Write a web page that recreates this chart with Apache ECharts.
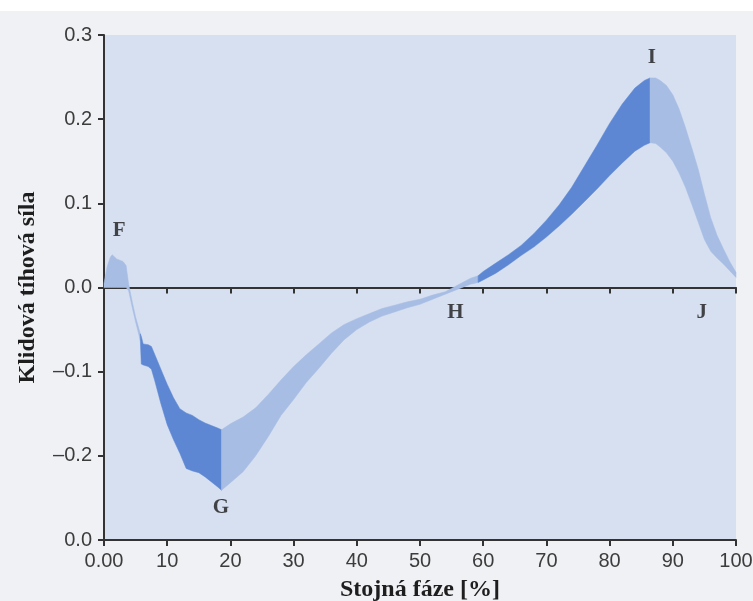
<!DOCTYPE html>
<html>
<head>
<meta charset="utf-8">
<script src="https://cdn.jsdelivr.net/npm/echarts@6/dist/echarts.min.js"></script>
<style>
  html, body { margin: 0; padding: 0; }
  body { background: linear-gradient(#ffffff 0 11px, #f0f1f4 11px); }
  #chart { width: 753px; height: 601px; }
</style>
</head>
<body>
<div id="chart"></div>
<script>
// Stance phase (% of stance) and the band of ground reaction force
const phase = [0, 0.5, 1, 1.3, 2, 3, 3.5, 3.9, 4.5, 5, 5.75, 5.9, 6.2, 7, 7.5, 8, 9, 10, 11, 12, 13, 14, 15, 16, 17, 18, 18.6,
  20, 22, 24, 26, 28, 30, 32, 34, 36, 38, 40, 42, 44, 46, 48, 50, 52, 54, 56, 58, 59.2,
  60, 62, 64, 66, 68, 70, 72, 74, 76, 78, 80, 82, 84, 85.5, 86.4, 87.3, 88, 89, 90, 91, 92, 93, 94, 95, 96, 97, 98, 99, 100];
const upperForce = [0.005, 0.025, 0.036, 0.039, 0.034, 0.031, 0.026, 0.004, -0.018, -0.035, -0.055, -0.058, -0.067, -0.068, -0.070, -0.079, -0.097, -0.115, -0.131, -0.144, -0.149, -0.152, -0.157, -0.161, -0.164, -0.167, -0.169,
  -0.162, -0.154, -0.143, -0.127, -0.110, -0.094, -0.080, -0.067, -0.054, -0.044, -0.037, -0.031, -0.025, -0.021, -0.017, -0.014, -0.009, -0.005, 0.003, 0.011, 0.014,
  0.019, 0.029, 0.039, 0.050, 0.064, 0.080, 0.098, 0.119, 0.144, 0.169, 0.195, 0.218, 0.237, 0.246, 0.249, 0.249, 0.246, 0.240, 0.229, 0.212, 0.190, 0.166, 0.141, 0.111, 0.083, 0.062, 0.046, 0.031, 0.018];
const lowerForce = [0, 0, 0, 0, 0, 0, 0, -0.004, -0.025, -0.041, -0.063, -0.091, -0.092, -0.094, -0.097, -0.110, -0.138, -0.163, -0.181, -0.197, -0.215, -0.218, -0.220, -0.225, -0.231, -0.237, -0.241,
  -0.232, -0.219, -0.200, -0.177, -0.152, -0.133, -0.113, -0.096, -0.078, -0.062, -0.050, -0.041, -0.034, -0.029, -0.024, -0.020, -0.014, -0.008, -0.002, 0.004, 0.006,
  0.009, 0.017, 0.027, 0.038, 0.048, 0.060, 0.073, 0.087, 0.102, 0.117, 0.133, 0.148, 0.162, 0.169, 0.172, 0.171, 0.167, 0.160, 0.150, 0.136, 0.119, 0.099, 0.078, 0.057, 0.043, 0.035, 0.028, 0.020, 0.012];

// Phase boundaries of the shaded pieces; even pieces light, odd pieces dark
const shadeBreaks = [0, 5.75, 18.6, 59.2, 86.4, 100];

// Point labels
const pointNames = ['F', 'G', 'H', 'I', 'J'];
const pointPhase = [2.4, 18.5, 55.6, 86.7, 94.6];
const pointForce = [0.068, -0.261, -0.030, 0.273, -0.030];

// Tick labels
const xTickLabels = ['0.00', '10', '20', '30', '40', '50', '60', '70', '80', '90', '100'];
const yTickLabels = ['0.0', '\u20130.2', '\u20130.1', '0.0', '0.1', '0.2', '0.3'];

const lightColor = '#a7bde4';
const darkColor = '#5d87d3';

function bandSeries(from, to, color) {
  const rows = [];
  phase.forEach((p, i) => {
    if (p >= from && p <= to) rows.push([p, lowerForce[i], upperForce[i]]);
  });
  return {
    type: 'custom',
    coordinateSystem: 'cartesian2d',
    encode: { x: 0, y: [1, 2] },
    data: rows,
    silent: true,
    renderItem: function (params, api) {
      if (params.dataIndex !== 0) return null;
      const pts = [];
      rows.forEach(r => pts.push(api.coord([r[0], r[2]])));
      for (let i = rows.length - 1; i >= 0; i--) pts.push(api.coord([rows[i][0], rows[i][1]]));
      return {
        type: 'polygon',
        shape: { points: pts },
        style: { fill: color, stroke: color, lineWidth: 0.5 }
      };
    }
  };
}

const series = [];
for (let k = 0; k < shadeBreaks.length - 1; k++) {
  series.push(bandSeries(shadeBreaks[k], shadeBreaks[k + 1], k % 2 ? darkColor : lightColor));
}
series.push({
  type: 'scatter',
  symbolSize: 0,
  silent: true,
  data: pointNames.map((n, i) => ({ value: [pointPhase[i], pointForce[i]], name: n })),
  label: {
    show: true,
    position: 'inside',
    formatter: p => p.name,
    fontFamily: 'Liberation Serif',
    fontWeight: 'bold',
    fontSize: 21,
    color: '#1a1a1a'
  }
});

const axisFont = { fontFamily: 'Liberation Sans', fontSize: 20, color: '#3c3c3c' };
const nameFont = { fontFamily: 'Liberation Serif', fontWeight: 'bold', fontSize: 24, color: '#1e1e1e' };
const lineStyle = { color: '#333', width: 2 };

const chart = echarts.init(document.getElementById('chart'), null, { renderer: 'canvas' });
chart.setOption({
  animation: false,
  backgroundColor: 'transparent',
  grid: {
    left: 104, right: 17, top: 35, bottom: 61,
    containLabel: false, outerBoundsMode: 'none',
    show: true, backgroundColor: '#d7e0f1', borderWidth: 0
  },
  xAxis: [{
    type: 'value', min: 0, max: 100, interval: 10,
    name: 'Stojná fáze [%]', nameLocation: 'middle', nameGap: 38,
    nameTextStyle: nameFont,
    axisLine: { show: true, onZero: false, lineStyle: lineStyle },
    axisTick: { show: true, length: 6, lineStyle: lineStyle },
    axisLabel: Object.assign({ margin: 11, formatter: v => xTickLabels[Math.round(v / 10)] }, axisFont),
    splitLine: { show: false }
  }, {
    type: 'value', min: 0, max: 100, interval: 10, position: 'bottom',
    axisLine: { show: true, onZero: true, lineStyle: lineStyle },
    axisTick: { show: true, length: 6, lineStyle: lineStyle },
    axisLabel: { show: false },
    splitLine: { show: false }
  }],
  yAxis: {
    type: 'value', min: -0.3, max: 0.3, interval: 0.1,
    name: 'Klidová tíhová síla', nameLocation: 'middle', nameGap: 64, nameRotate: 90,
    nameTextStyle: nameFont,
    axisLine: { show: true, lineStyle: lineStyle },
    axisTick: { show: true, length: 6, lineStyle: lineStyle },
    axisLabel: Object.assign({ margin: 12, formatter: v => yTickLabels[Math.round((v + 0.3) * 10)] }, axisFont),
    splitLine: { show: false }
  },
  series: series
});
</script>
</body>
</html>
